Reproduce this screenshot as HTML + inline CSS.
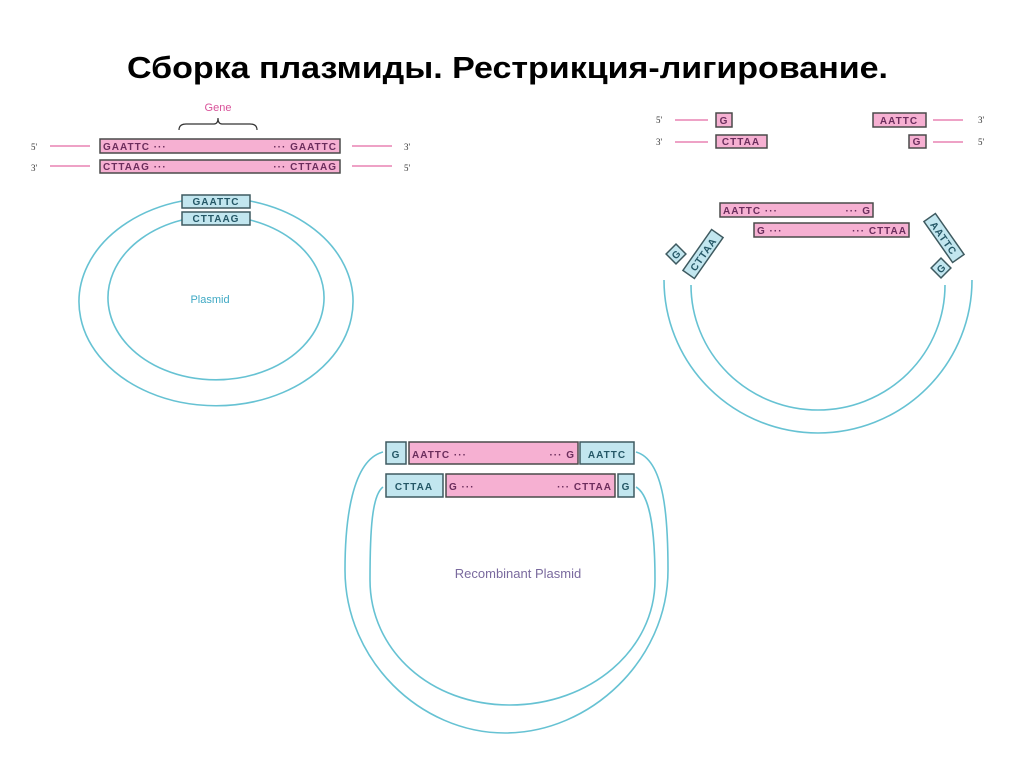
<!DOCTYPE html>
<html><head><meta charset="utf-8"><style>
body{margin:0;background:#fff;width:1024px;height:767px;overflow:hidden}
svg{display:block}
.t{font-family:"Liberation Sans",sans-serif;font-weight:bold;fill:#6b2d5c;font-size:10px;letter-spacing:1px}
.b{font-family:"Liberation Sans",sans-serif;font-weight:bold;fill:#245766;font-size:10px;letter-spacing:1px}
.s{font-family:"Liberation Serif",serif;fill:#333;font-size:9px}
.pk{fill:#f6b0d2;stroke:#4a4a4a;stroke-width:1.5}
.bl{fill:#c2e6ef;stroke:#3e5a60;stroke-width:1.5}
.ln{stroke:#e36aa4;stroke-width:1.3}
.c{fill:none;stroke:#66c2d3;stroke-width:1.6}
</style></head><body>
<svg width="1024" height="767" viewBox="0 0 1024 767">
<text x="127" y="78" textLength="761" lengthAdjust="spacingAndGlyphs" font-family="Liberation Sans,sans-serif" font-weight="bold" font-size="31" fill="#000">Сборка плазмиды. Рестрикция-лигирование.</text>

<!-- left top -->
<text x="218" y="111" text-anchor="middle" font-family="Liberation Sans,sans-serif" font-size="11" fill="#d9539a">Gene</text>
<path d="M179,130 Q179,124 186,124 L214,124 Q218,124 218,118 Q218,124 222,124 L250,124 Q257,124 257,130" fill="none" stroke="#333" stroke-width="1.2"/>
<text class="s" x="31" y="150">5'</text><text class="s" x="31" y="171">3'</text>
<line class="ln" x1="50" y1="146" x2="90" y2="146"/><line class="ln" x1="50" y1="166" x2="90" y2="166"/>
<rect class="pk" x="100" y="139" width="240" height="14"/>
<rect class="pk" x="100" y="160" width="240" height="13"/>
<text class="t" x="103" y="150">GAATTC ···</text><text class="t" x="337" y="150" text-anchor="end">··· GAATTC</text>
<text class="t" x="103" y="170">CTTAAG ···</text><text class="t" x="337" y="170" text-anchor="end">··· CTTAAG</text>
<line class="ln" x1="352" y1="146" x2="392" y2="146"/><line class="ln" x1="352" y1="166" x2="392" y2="166"/>
<text class="s" x="404" y="150">3'</text><text class="s" x="404" y="171">5'</text>

<path class="c" d="M182,201 A137,104 0 1,0 250,201"/>
<path class="c" d="M182,220 A108,82 0 1,0 250,220"/>
<rect class="bl" x="182" y="195" width="68" height="13"/>
<rect class="bl" x="182" y="212" width="68" height="13"/>
<text class="b" x="216" y="205" text-anchor="middle">GAATTC</text>
<text class="b" x="216" y="222" text-anchor="middle">CTTAAG</text>
<text x="210" y="303" text-anchor="middle" font-family="Liberation Sans,sans-serif" font-size="11" fill="#3fa9c4">Plasmid</text>

<!-- right top -->
<text class="s" x="656" y="123">5'</text><text class="s" x="656" y="145">3'</text>
<line class="ln" x1="675" y1="120" x2="708" y2="120"/><line class="ln" x1="675" y1="142" x2="708" y2="142"/>
<rect class="pk" x="716" y="113" width="16" height="14"/><text class="t" x="724" y="124" text-anchor="middle" letter-spacing="0">G</text>
<rect class="pk" x="716" y="135" width="51" height="13"/><text class="t" x="741" y="145" text-anchor="middle">CTTAA</text>
<rect class="pk" x="873" y="113" width="53" height="14"/><text class="t" x="899" y="124" text-anchor="middle">AATTC</text>
<rect class="pk" x="909" y="135" width="17" height="13"/><text class="t" x="917" y="145" text-anchor="middle" letter-spacing="0">G</text>
<line class="ln" x1="933" y1="120" x2="963" y2="120"/><line class="ln" x1="933" y1="142" x2="963" y2="142"/>
<text class="s" x="978" y="123">3'</text><text class="s" x="978" y="145">5'</text>

<rect class="pk" x="720" y="203" width="153" height="14"/>
<text class="t" x="723" y="214">AATTC ···</text><text class="t" x="871" y="214" text-anchor="end">··· G</text>
<rect class="pk" x="754" y="223" width="155" height="14"/>
<text class="t" x="757" y="234">G ···</text><text class="t" x="907" y="234" text-anchor="end">··· CTTAA</text>

<path class="c" d="M664,280 A154,153 0 0,0 972,280"/>
<path class="c" d="M691,285 A127,125 0 0,0 945,285"/>
<g transform="translate(676,254) rotate(-45)"><rect class="bl" x="-7" y="-7" width="14" height="14"/><text class="b" x="0" y="4" text-anchor="middle" letter-spacing="0">G</text></g>
<g transform="translate(703,254) rotate(-55)"><rect class="bl" x="-25" y="-7" width="50" height="14"/><text class="b" x="0" y="4" text-anchor="middle">CTTAA</text></g>
<g transform="translate(944,238) rotate(55)"><rect class="bl" x="-25" y="-7" width="50" height="14"/><text class="b" x="0" y="4" text-anchor="middle">AATTC</text></g>
<g transform="translate(941,268) rotate(-45)"><rect class="bl" x="-7" y="-7" width="14" height="14"/><text class="b" x="0" y="4" text-anchor="middle" letter-spacing="0">G</text></g>

<!-- bottom -->
<path class="c" d="M383,452 C352,460 345,520 345,570 C345,660 420,733 505,733 C590,733 668,660 668,570 C668,520 665,460 636,452"/>
<path class="c" d="M383,487 C372,495 370,530 370,580 C370,650 430,705 510,705 C590,705 655,650 655,580 C655,530 650,495 636,487"/>
<g font-size="13">
<rect class="bl" x="386" y="442" width="20" height="22"/><text class="b" x="396" y="458" text-anchor="middle" font-size="13" letter-spacing="0">G</text>
<rect class="pk" x="409" y="442" width="169" height="22"/><text class="t" x="412" y="458" font-size="13">AATTC ···</text><text class="t" x="575" y="458" font-size="13" text-anchor="end">··· G</text>
<rect class="bl" x="580" y="442" width="54" height="22"/><text class="b" x="607" y="458" font-size="13" text-anchor="middle">AATTC</text>
<rect class="bl" x="386" y="474" width="57" height="23"/><text class="b" x="414" y="490" font-size="13" text-anchor="middle">CTTAA</text>
<rect class="pk" x="446" y="474" width="169" height="23"/><text class="t" x="449" y="490" font-size="13">G ···</text><text class="t" x="612" y="490" font-size="13" text-anchor="end">··· CTTAA</text>
<rect class="bl" x="618" y="474" width="16" height="23"/><text class="b" x="626" y="490" font-size="13" text-anchor="middle" letter-spacing="0">G</text>
</g>
<text x="518" y="578" text-anchor="middle" font-family="Liberation Sans,sans-serif" font-size="13" fill="#7a6a9e">Recombinant Plasmid</text>
</svg>
</body></html>
